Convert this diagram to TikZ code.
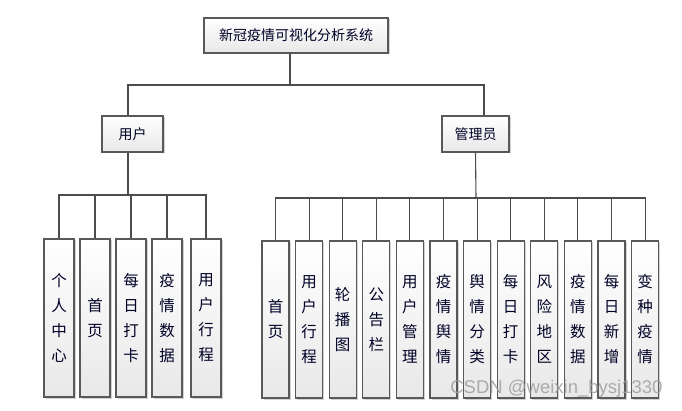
\documentclass[tikz,border=0pt]{standalone}
\usepackage{fontspec}
\newfontfamily\cjk{Noto Sans CJK SC}
\setsansfont{Liberation Sans}
\usetikzlibrary{shadows}
\tikzset{
  box/.style={draw=gray!70!black, line width=1.1pt, top color=white, bottom color=gray!18,
    drop shadow={shadow xshift=1.5pt, shadow yshift=-1.5pt, opacity=0.35, fill=gray},
    inner sep=0pt, text=black!85!blue},
  headbox/.style={box, font=\cjk\fontsize{14}{16}\selectfont},
  leafbox/.style={box, align=center, font=\cjk\fontsize{15.5}{25}\selectfont},
  link/.style={draw=black!70, line width=1.1pt},
}
\begin{document}
\begin{tikzpicture}[x=1pt,y=-1pt]
\useasboundingbox (0,0) rectangle (682,411);
\fill[white] (0,0) rectangle (682,411);

% top and second level
\node[headbox, minimum width=184pt, minimum height=35pt] (top) at (296,35.5) {新冠疫情可视化分析系统};
\node[headbox, minimum width=61pt, minimum height=36pt] (user) at (132.5,134) {用户};
\node[headbox, minimum width=67pt, minimum height=36pt] (admin) at (475.5,134) {管理员};

\coordinate (tb) at (290,85);
\draw[link] ([xshift=-6pt]top.south) -- (tb);
\draw[link] ([xshift=-4.5pt]user.north) |- (tb) -| ([xshift=8.5pt]admin.north);

% user children
\foreach \name/\x/\txt in {u1/59/{个\\人\\中\\心}, u2/95/{首\\页}, u3/131/{每\\日\\打\\卡}, u4/167/{疫\\情\\数\\据}, u5/206/{用\\户\\行\\程}}{
  \node[leafbox, minimum width=30pt, minimum height=158pt] (\name) at (\x,318) {\txt};
}
\coordinate (ub) at (128,195);
\draw[link] ([xshift=-4.5pt]user.south) -- (ub);
\draw[link] (u1.north) |- (ub) -| (u5.north);
\foreach \n in {u2,u3,u4}{\draw[link] (\n.north) -- (\n.north |- ub);}

% admin children
\foreach \i/\txt in {0/{首\\页}, 1/{用\\户\\行\\程}, 2/{轮\\播\\图}, 3/{公\\告\\栏}, 4/{用\\户\\管\\理}, 5/{疫\\情\\舆\\情}, 6/{舆\\情\\分\\类}, 7/{每\\日\\打\\卡}, 8/{风\\险\\地\\区}, 9/{疫\\情\\数\\据}, 10/{每\\日\\新\\增}, 11/{变\\种\\疫\\情}}{
  \node[leafbox, minimum width=27pt, minimum height=157pt] (a\i) at ({275.5+33.6*\i},319.5) {\txt};
}
\coordinate (ab) at (476,198);
\draw[link] (admin.south) -- (ab);
\draw[link] (a0.north) |- (ab) -| (a11.north);
\foreach \n in {1,...,10}{\draw[link] (a\n.north) -- (a\n.north |- ab);}

% watermark
\node[anchor=east, text=gray!75, font=\sffamily\fontsize{18.5}{20}\selectfont, opacity=0.85] (wm) at (666,389) {CSDN @weixin\_bysj1330};
\end{tikzpicture}
\end{document}
